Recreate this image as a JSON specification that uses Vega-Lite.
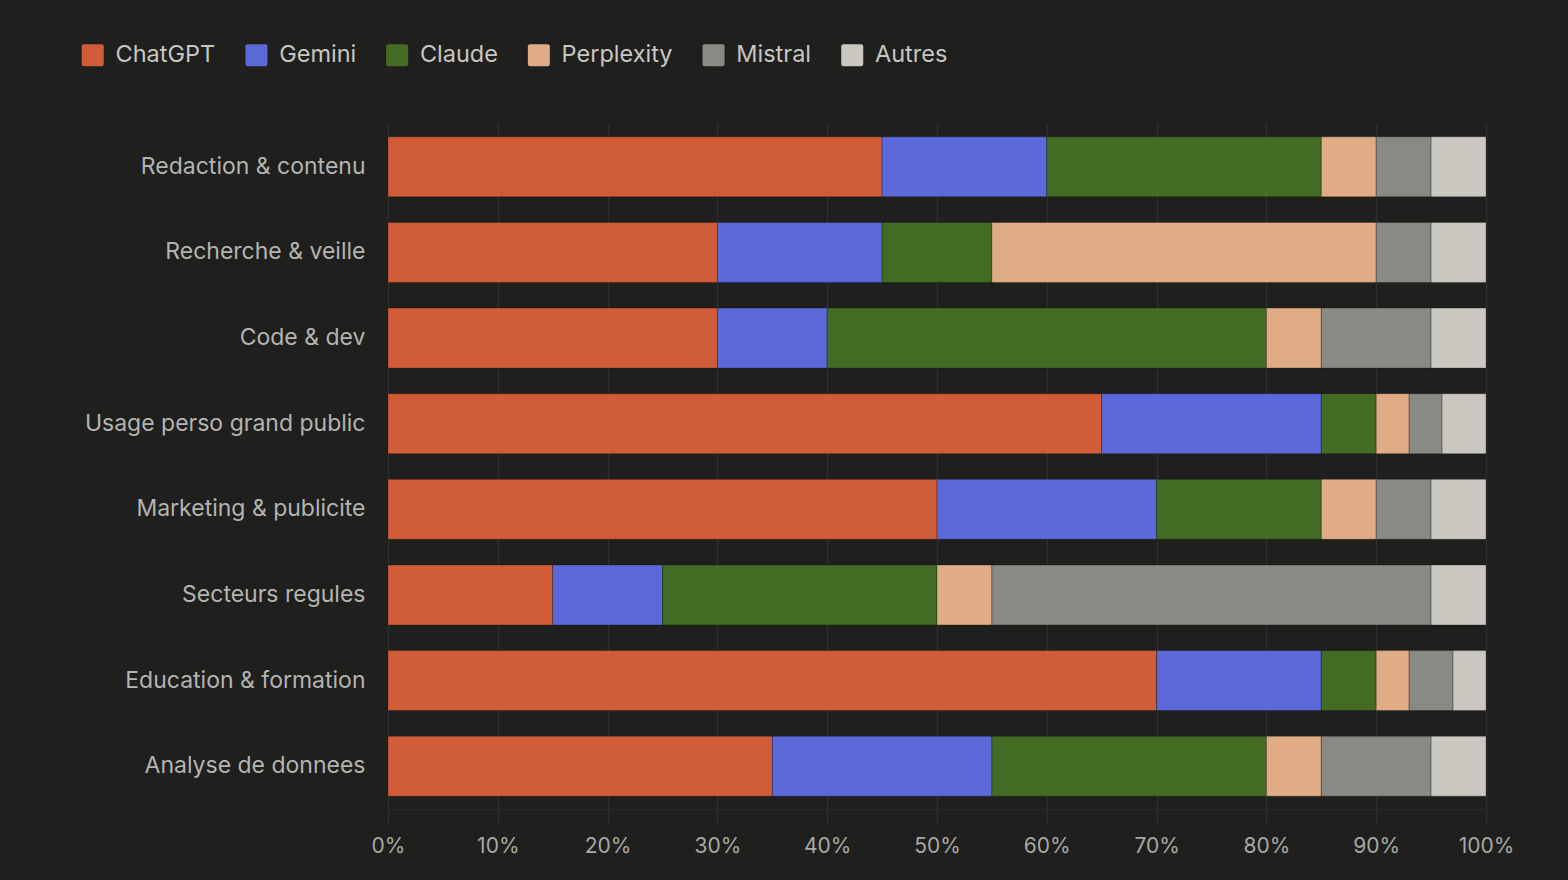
{
  "$schema": "https://vega.github.io/schema/vega-lite/v6.json",
  "width": 1098,
  "height": 685,
  "autosize": {"type": "none"},
  "padding": {"left": 388, "top": 124, "right": 82, "bottom": 71},
  "background": "#1f1f1e",
  "config": {
    "view": {"stroke": null},
    "font": "Inter"
  },
  "data": {
    "values": [
      {"cat": "Redaction & contenu", "model": "ChatGPT", "o": 1, "v": 45},
      {"cat": "Redaction & contenu", "model": "Gemini", "o": 2, "v": 15},
      {"cat": "Redaction & contenu", "model": "Claude", "o": 3, "v": 25},
      {"cat": "Redaction & contenu", "model": "Perplexity", "o": 4, "v": 5},
      {"cat": "Redaction & contenu", "model": "Mistral", "o": 5, "v": 5},
      {"cat": "Redaction & contenu", "model": "Autres", "o": 6, "v": 5},
      {"cat": "Recherche & veille", "model": "ChatGPT", "o": 1, "v": 30},
      {"cat": "Recherche & veille", "model": "Gemini", "o": 2, "v": 15},
      {"cat": "Recherche & veille", "model": "Claude", "o": 3, "v": 10},
      {"cat": "Recherche & veille", "model": "Perplexity", "o": 4, "v": 35},
      {"cat": "Recherche & veille", "model": "Mistral", "o": 5, "v": 5},
      {"cat": "Recherche & veille", "model": "Autres", "o": 6, "v": 5},
      {"cat": "Code & dev", "model": "ChatGPT", "o": 1, "v": 30},
      {"cat": "Code & dev", "model": "Gemini", "o": 2, "v": 10},
      {"cat": "Code & dev", "model": "Claude", "o": 3, "v": 40},
      {"cat": "Code & dev", "model": "Perplexity", "o": 4, "v": 5},
      {"cat": "Code & dev", "model": "Mistral", "o": 5, "v": 10},
      {"cat": "Code & dev", "model": "Autres", "o": 6, "v": 5},
      {"cat": "Usage perso grand public", "model": "ChatGPT", "o": 1, "v": 65},
      {"cat": "Usage perso grand public", "model": "Gemini", "o": 2, "v": 20},
      {"cat": "Usage perso grand public", "model": "Claude", "o": 3, "v": 5},
      {"cat": "Usage perso grand public", "model": "Perplexity", "o": 4, "v": 3},
      {"cat": "Usage perso grand public", "model": "Mistral", "o": 5, "v": 3},
      {"cat": "Usage perso grand public", "model": "Autres", "o": 6, "v": 4},
      {"cat": "Marketing & publicite", "model": "ChatGPT", "o": 1, "v": 50},
      {"cat": "Marketing & publicite", "model": "Gemini", "o": 2, "v": 20},
      {"cat": "Marketing & publicite", "model": "Claude", "o": 3, "v": 15},
      {"cat": "Marketing & publicite", "model": "Perplexity", "o": 4, "v": 5},
      {"cat": "Marketing & publicite", "model": "Mistral", "o": 5, "v": 5},
      {"cat": "Marketing & publicite", "model": "Autres", "o": 6, "v": 5},
      {"cat": "Secteurs regules", "model": "ChatGPT", "o": 1, "v": 15},
      {"cat": "Secteurs regules", "model": "Gemini", "o": 2, "v": 10},
      {"cat": "Secteurs regules", "model": "Claude", "o": 3, "v": 25},
      {"cat": "Secteurs regules", "model": "Perplexity", "o": 4, "v": 5},
      {"cat": "Secteurs regules", "model": "Mistral", "o": 5, "v": 40},
      {"cat": "Secteurs regules", "model": "Autres", "o": 6, "v": 5},
      {"cat": "Education & formation", "model": "ChatGPT", "o": 1, "v": 70},
      {"cat": "Education & formation", "model": "Gemini", "o": 2, "v": 15},
      {"cat": "Education & formation", "model": "Claude", "o": 3, "v": 5},
      {"cat": "Education & formation", "model": "Perplexity", "o": 4, "v": 3},
      {"cat": "Education & formation", "model": "Mistral", "o": 5, "v": 4},
      {"cat": "Education & formation", "model": "Autres", "o": 6, "v": 3},
      {"cat": "Analyse de donnees", "model": "ChatGPT", "o": 1, "v": 35},
      {"cat": "Analyse de donnees", "model": "Gemini", "o": 2, "v": 20},
      {"cat": "Analyse de donnees", "model": "Claude", "o": 3, "v": 25},
      {"cat": "Analyse de donnees", "model": "Perplexity", "o": 4, "v": 5},
      {"cat": "Analyse de donnees", "model": "Mistral", "o": 5, "v": 10},
      {"cat": "Analyse de donnees", "model": "Autres", "o": 6, "v": 5}
    ]
  },
  "mark": {"type": "bar", "stroke": "#000000", "strokeOpacity": 0.25, "strokeWidth": 1},
  "encoding": {
    "y": {
      "field": "cat",
      "type": "nominal",
      "sort": null,
      "scale": {"paddingInner": 0.3, "paddingOuter": 0.15},
      "axis": {
        "title": null,
        "domain": false,
        "ticks": false,
        "labelPadding": 23,
        "labelFontSize": 23,
        "labelLimit": 0,
        "labelColor": "#b4b4b0",
        "labelFont": "Inter"
      }
    },
    "x": {
      "field": "v",
      "type": "quantitative",
      "stack": "normalize",
      "scale": {"domain": [0, 1], "nice": false},
      "axis": {
        "title": null,
        "format": ".0%",
        "values": [0, 0.1, 0.2, 0.3, 0.4, 0.5, 0.6, 0.7, 0.8, 0.9, 1],
        "grid": true,
        "gridColor": "#2e2e2e",
        "gridWidth": 1.5,
        "domain": true,
        "domainColor": "#2a2a2a",
        "domainWidth": 1.5,
        "tickColor": "#2e2e2e",
        "tickWidth": 1.5,
        "tickSize": 15,
        "labelPadding": 11,
        "labelFlush": false,
        "labelFontSize": 21,
        "labelColor": "#a8a8a4",
        "labelFont": "Inter"
      }
    },
    "color": {
      "field": "model",
      "type": "nominal",
      "sort": ["ChatGPT", "Gemini", "Claude", "Perplexity", "Mistral", "Autres"],
      "scale": {
        "domain": ["ChatGPT", "Gemini", "Claude", "Perplexity", "Mistral", "Autres"],
        "range": ["#d05d38", "#5c69d8", "#446b24", "#e0ac85", "#8a8a84", "#cbc8c2"]
      },
      "legend": {
        "title": null,
        "orient": "none",
        "direction": "horizontal",
        "legendX": -307,
        "legendY": -81,
        "symbolType": "M -0.8,-1 H 0.8 Q 1,-1 1,-0.8 V 0.8 Q 1,1 0.8,1 H -0.8 Q -1,1 -1,0.8 V -0.8 Q -1,-1 -0.8,-1 Z",
        "symbolSize": 484,
        "symbolStrokeWidth": 0,
        "symbolOpacity": 1,
        "labelFontSize": 23.5,
        "labelColor": "#c8c6c0",
        "labelFont": "Inter",
        "labelOffset": 11,
        "columnPadding": 28.7
      }
    },
    "order": {"field": "o", "type": "quantitative"}
  }
}
